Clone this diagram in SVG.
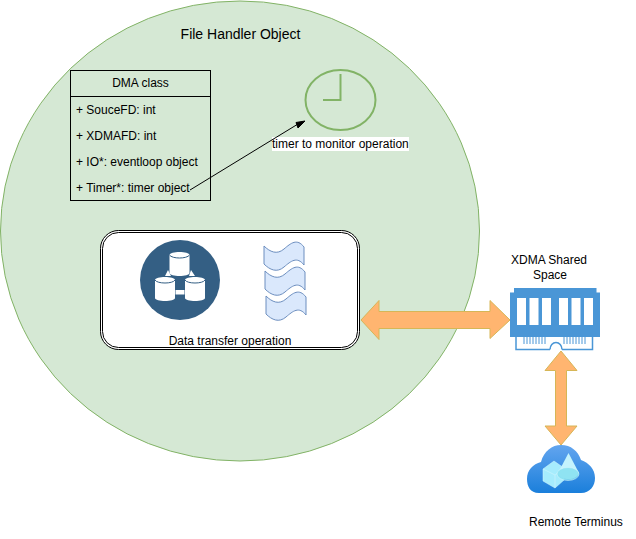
<svg xmlns="http://www.w3.org/2000/svg" width="636" height="539" viewBox="0 0 636 539">
<defs>
<linearGradient id="cg" x1="0" y1="0" x2="0" y2="1"><stop offset="0" stop-color="#63a5ef"/><stop offset="1" stop-color="#1b7fdb"/></linearGradient>
<path id="wave" d="M0 0C6 6 13 9 20 3C27 -3 33 -8 40 1V19C33 10 27 15 20 21C13 27 6 24 0 18Z"/>
<path id="cyl" d="M0 3C0 -1 20 -1 20 3V21C20 25 0 25 0 21Z"/>
</defs>
<style>
text{font-family:"Liberation Sans",Arial,sans-serif;font-size:12px;fill:#000}
.m{text-anchor:middle}
.arrow{fill:#ffb570;stroke:#d6b656;stroke-width:1}
.wave{fill:#dae8fc;stroke:#6c8ebf;stroke-width:1}
.db{fill:#fff;stroke:none}
.sl{fill:#fff}
</style>
<rect width="636" height="539" fill="#fff"/>
<g id="file-handler"><ellipse cx="240" cy="231" rx="239.500" ry="230" fill="#d5e8d4" stroke="#82b366"/><text class="m" x="240.500" y="39" style="font-size:14px">File Handler Object</text></g>
<g id="dma-class">
<rect x="70.500" y="70.500" width="140" height="130" fill="none" stroke="#000"/>
<line x1="70.500" y1="96.500" x2="210.500" y2="96.500" stroke="#000"/>
<text class="m" x="140.500" y="87">DMA class</text>
<text x="76" y="114">+ SouceFD: int</text>
<text x="76" y="140">+ XDMAFD: int</text>
<text x="76" y="166">+ IO*: eventloop object</text>
<text x="76" y="192">+ Timer*: timer object</text>
</g>
<g id="timer">
<ellipse cx="340.500" cy="100" rx="35" ry="30" fill="none" stroke="#82b366" stroke-width="2"/>
<path d="M340.500 74V100H323" fill="none" stroke="#82b366" stroke-width="2"/>
<rect x="272" y="137" width="137" height="14" fill="#fff"/>
<text x="272" y="148">timer to monitor operation</text>
</g>
<g id="data-transfer">
<rect x="100.500" y="230.500" width="259" height="119" rx="18" fill="#fff" stroke="#000"/>
<rect x="102.500" y="232.500" width="255" height="115" rx="16" fill="none" stroke="#000"/>
<text class="m" x="230" y="345">Data transfer operation</text>
<circle cx="180" cy="280" r="40" fill="#345f84"/>
<path class="db" d="M168 270L165 276H171ZM191 270L195 276H189Z"/>
<rect class="db" x="175.500" y="290" width="9" height="4.500"/>
<use href="#cyl" class="db" x="169.500" y="252"/>
<g stroke="#345f84" stroke-width="1.200">
<use href="#cyl" class="db" x="155" y="277" stroke="#345f84"/>
<use href="#cyl" class="db" x="185" y="277" stroke="#345f84"/>
</g>
<path d="M169.500 255C172 259 187 259 189.500 255M155 280C157 284 173 284 175 280M185 280C187 284 203 284 205 280" fill="none" stroke="#345f84" stroke-width="1"/>
<use href="#wave" class="wave" x="264" y="246"/>
<use href="#wave" class="wave" x="265" y="271"/>
<use href="#wave" class="wave" x="266" y="296"/>
</g>
<g id="xdma-space">
<text class="m" x="549" y="264">XDMA Shared</text>
<text class="m" x="550" y="279">Space</text>
<path fill="#4a96d6" d="M514 288H596.500V292.500H600V337H510V292.500H514Z"/>
<g class="sl"><rect x="517" y="298" width="9" height="27"/><rect x="529.500" y="298" width="9" height="27"/><rect x="542" y="298" width="9" height="27"/><rect x="559" y="298" width="9" height="27"/><rect x="571.500" y="298" width="9" height="27"/><rect x="584" y="298" width="9" height="27"/></g>
<path fill="none" stroke="#4a96d6" stroke-width="1.500" d="M516 337V349.500H550M562 349.500H592.500V337M550 349.500A6 7 0 0 1 562 349.500"/>
<path fill="none" stroke="#4a96d6" stroke-width="1" d="M524 337V344M527 337V344M530 337V344M533 337V344M536 337V344M539 337V344M542 337V344M545 337V344M564 337V344M567 337V344M570 337V344M573 337V344M576 337V344M579 337V344M582 337V344M585 337V344"/>
</g>
<g id="remote-terminus">
<path fill="url(#cg)" d="M539 493C530 493 527 486 527 479C527 470 533 464 541 462C544 451 552 445 561 445C571 445 578 451 581 460C589 463 595 469 595 478C595 486 590 493 581 493Z"/>
<path fill="#a6ecfd" stroke="#d8f6fd" stroke-width=".5" d="M543 469L554 461L564 468V480L555 488L543 481Z"/>
<path fill="none" stroke="#d8f6fd" stroke-width=".5" d="M543 469L555 475V488M555 475L564 468"/>
<path fill="#c4f3fd" d="M568.500 453L579 473C576 481 561 481 558 473Z"/>
<ellipse cx="568" cy="474" rx="11" ry="6.500" fill="#86dff0" fill-opacity=".85" stroke="#d8f6fd" stroke-width=".5"/>
<text x="529" y="526">Remote Terminus</text>
</g>
<g id="connectors">
<path d="M190 190L298 124" fill="none" stroke="#000"/>
<path d="M305 121L298 128L296 122.500Z" stroke="#000"/>
<path class="arrow" d="M361 320L379 300.500V311.500H490V300.500L510 320L490 338.500V328.500H379V339.500Z"/>
<path class="arrow" d="M561 351L577 370.500H566.500V426H577L561 445L545 426H555.500V370.500H545Z"/>
</g>
</svg>
